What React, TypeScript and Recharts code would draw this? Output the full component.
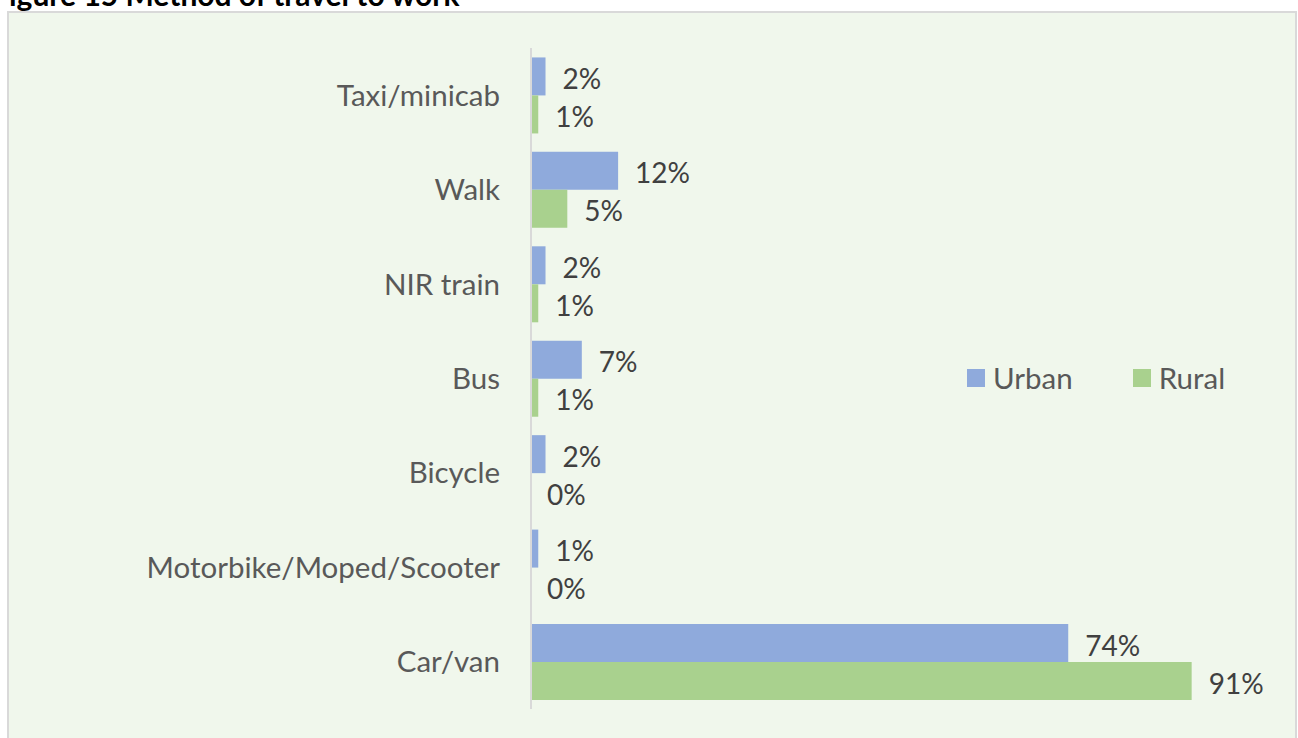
import { BarChart, Bar, XAxis, YAxis, LabelList } from 'recharts';

const categories = ['Taxi/minicab', 'Walk', 'NIR train', 'Bus', 'Bicycle', 'Motorbike/Moped/Scooter', 'Car/van'];
const urban = [2, 12, 2, 7, 2, 1, 74];
const rural = [1, 5, 1, 1, 0, 0, 91];
const series = [
    { key: 'Urban', color: '#8FAADC' },
    { key: 'Rural', color: '#A9D18E' },
];

const data = categories.map((name, i) => ({ name, Urban: urban[i], Rural: rural[i] }));

const FONT = 'Lato, "Open Sans", sans-serif';

const pctText = (x: number, y: number, value: number, key: string) => (
    <text key={key} x={x} y={y} dy="0.45em" fill="#404040" fontSize={28} fontFamily={FONT}>
        {`${value}%`}
    </text>
);

// recharts drops zero-width bars (and their labels), so the Urban label
// also draws the Rural "0%" label one bar height below when needed
const urbanLabel = (props: any) => {
    const { x, y, width, height, value, index } = props;
    if (value == null) return null;
    const bx = Number(x), by = Number(y), bh = Number(height);
    const r = rural[index];
    return (
        <g>
            {pctText(bx + Number(width || 0) + 17, by + bh / 2, value, 'u')}
            {r === 0 && pctText(bx + 16, by + bh * 1.5, r, 'r')}
        </g>
    );
};

const ruralLabel = (props: any) => {
    const { x, y, width, height, value } = props;
    if (value == null) return null;
    return pctText(Number(x) + Number(width || 0) + 17, Number(y) + Number(height) / 2, value, 'r');
};

export default function App() {
    return (
        <div style={{ position: 'absolute', left: 0, top: 0, width: 1298, height: 738, overflow: 'hidden', background: '#fff' }}>
            <div style={{ position: 'absolute', left: -8, top: -24, fontFamily: FONT, fontWeight: 700, fontSize: 30, color: '#000', whiteSpace: 'nowrap' }}>
                Figure 15 Method of travel to work
            </div>
            <div style={{ position: 'absolute', left: 7, top: 11, width: 1286, height: 740, background: '#F0F7EC', border: '2px solid #D9D9D9' }} />
            <div style={{ position: 'absolute', left: 0, top: 0 }}>
                <BarChart
                    width={1298}
                    height={738}
                    data={data}
                    layout="vertical"
                    margin={{ top: 48, right: 41, bottom: 29, left: 0 }}
                    barCategoryGap="10%"
                    barGap={0}
                >
                    <XAxis type="number" domain={[0, 100]} hide />
                    <YAxis
                        type="category"
                        dataKey="name"
                        width={531}
                        tickLine={false}
                        tickMargin={25}
                        axisLine={{ stroke: '#D9D9D9', strokeWidth: 2 }}
                        tick={{ fill: '#595959', fontSize: 29.5, fontFamily: FONT }}
                        interval={0}
                    />
                    <Bar dataKey="Urban" fill={series[0].color} isAnimationActive={false}>
                        <LabelList dataKey="Urban" content={urbanLabel} />
                    </Bar>
                    <Bar dataKey="Rural" fill={series[1].color} isAnimationActive={false}>
                        <LabelList dataKey="Rural" content={ruralLabel} />
                    </Bar>
                </BarChart>
            </div>
            <div style={{ position: 'absolute', left: 967, top: 360, display: 'flex', gap: 60, fontFamily: FONT, fontSize: 29.5, color: '#595959' }}>
                {series.map((s) => (
                    <div key={s.key} style={{ display: 'flex', alignItems: 'center', gap: 8 }}>
                        <span style={{ width: 18, height: 18, background: s.color, display: 'inline-block' }} />
                        <span>{s.key}</span>
                    </div>
                ))}
            </div>
        </div>
    );
}
